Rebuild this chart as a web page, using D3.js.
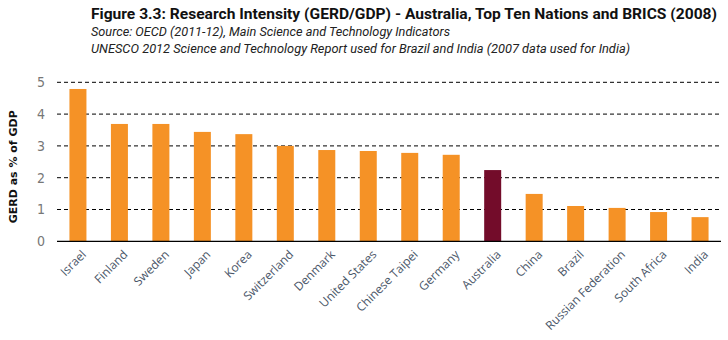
<!DOCTYPE html>
<html><head><meta charset="utf-8">
<script src="https://cdn.jsdelivr.net/npm/d3@7"></script>
<style>
body{margin:0;background:#fff;}
</style></head>
<body><svg id="c" width="728" height="340"></svg>
<script>
const countries = ["Israel","Finland","Sweden","Japan","Korea","Switzerland","Denmark","United States","Chinese Taipei","Germany","Australia","China","Brazil","Russian Federation","South Africa","India"];
const gerd = [4.79,3.69,3.69,3.44,3.37,3.0,2.87,2.84,2.78,2.72,2.24,1.49,1.11,1.05,0.92,0.76];
const yTicks = [0,1,2,3,4,5];
const highlight = "Australia";

const svg = d3.select("#c");
const m = {l:57, r:7, t:82.3, b:98.7};
const W = 728, H = 340;
const x = d3.scaleBand().domain(countries).range([m.l, W-m.r]).paddingInner(0.59).paddingOuter(0.3);
const y = d3.scaleLinear().domain([0,5]).range([H-m.b, m.t]);

const cond = "Roboto,'DejaVu Sans Condensed',sans-serif";
svg.append("text").attr("x",91).attr("y",19).attr("font-family",cond).attr("font-weight","bold")
  .attr("font-size",14.5).attr("fill","#111").attr("textLength",626).attr("lengthAdjust","spacingAndGlyphs")
  .text("Figure 3.3: Research Intensity (GERD/GDP) - Australia, Top Ten Nations and BRICS (2008)");
svg.append("text").attr("x",91).attr("y",36).attr("font-family",cond).attr("font-style","italic")
  .attr("font-size",12.5).attr("fill","#222").attr("textLength",359).attr("lengthAdjust","spacingAndGlyphs")
  .text("Source: OECD (2011-12), Main Science and Technology Indicators");
svg.append("text").attr("x",91).attr("y",53).attr("font-family",cond).attr("font-style","italic")
  .attr("font-size",12.5).attr("fill","#222").attr("textLength",539).attr("lengthAdjust","spacingAndGlyphs")
  .text("UNESCO 2012 Science and Technology Report used for Brazil and India (2007 data used for India)");

// gridlines
svg.append("g").selectAll("line").data(yTicks.filter(d=>d>0)).join("line")
  .attr("x1",m.l).attr("x2",W-m.r).attr("y1",d=>y(d)).attr("y2",d=>y(d))
  .attr("stroke","#000").attr("stroke-width",1).attr("stroke-dasharray","4,3");

// bars
svg.append("g").selectAll("rect").data(countries).join("rect")
  .attr("x",d=>x(d)).attr("width",x.bandwidth())
  .attr("y",(d,i)=>y(gerd[i])).attr("height",(d,i)=>y(0)-y(gerd[i]))
  .attr("fill",d=>d===highlight?"#730c2a":"#f59226");

// baseline
svg.append("line").attr("x1",m.l).attr("x2",W-m.r).attr("y1",y(0)).attr("y2",y(0)).attr("stroke","#000").attr("stroke-width",1.3);

// y tick labels
svg.append("g").selectAll("text").data(yTicks).join("text")
  .attr("x",45).attr("y",d=>y(d)).attr("dy","0.35em").attr("text-anchor","end")
  .attr("font-family","'DejaVu Sans Condensed',sans-serif").attr("font-size",14).attr("fill","#777").text(d=>d);

// y label
svg.append("text").attr("transform",`translate(17,${(y(0)+y(5))/2+5}) rotate(-90)`)
  .attr("text-anchor","middle").attr("font-family","'DejaVu Sans',sans-serif").attr("font-weight","bold")
  .attr("font-size",11).attr("fill","#111").text("GERD as % of GDP");

// x labels
svg.append("g").selectAll("text").data(countries).join("text")
  .attr("transform",d=>`translate(${x(d)+x.bandwidth()/2+3},${y(0)+8}) rotate(-45)`)
  .attr("text-anchor","end").attr("dy","0.7em")
  .attr("font-family","'Open Sans',sans-serif").attr("font-size",12).attr("fill","#4a5668").text(d=>d);
</script></body></html>
